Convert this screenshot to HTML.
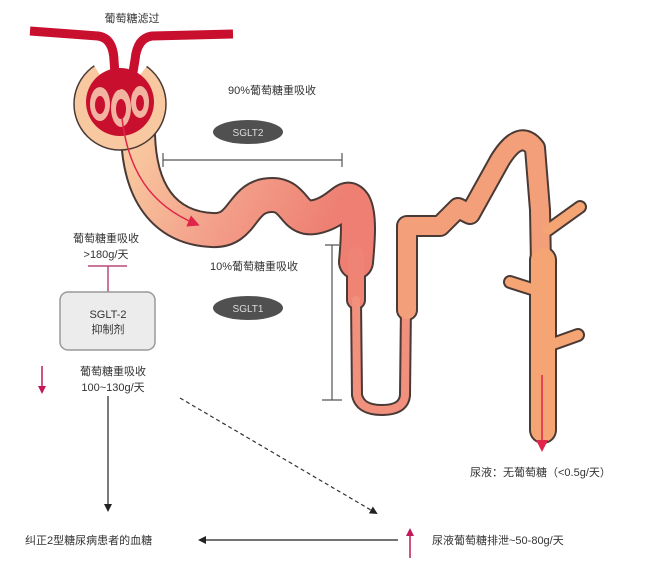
<!DOCTYPE html>
<html><head><meta charset="utf-8"><style>
html,body{margin:0;padding:0;background:#fff;}
svg{display:block;}
text{font-family:"Liberation Sans","Noto Sans CJK SC",sans-serif;fill:#333;}
</style></head><body>
<svg width="660" height="572" viewBox="0 0 660 572" xmlns="http://www.w3.org/2000/svg">
<defs>
<linearGradient id="gp" x1="0" y1="0" x2="1" y2="0.3">
<stop offset="0" stop-color="#f8c9a0"/><stop offset="0.5" stop-color="#f3a08a"/><stop offset="1" stop-color="#ee7f72"/>
</linearGradient>
<marker id="ab" markerWidth="8" markerHeight="8" refX="6" refY="4" orient="auto" markerUnits="userSpaceOnUse"><path d="M0,0 L8,4 L0,8 z" fill="#222"/></marker>
<marker id="ar" markerWidth="12" markerHeight="12" refX="8" refY="6" orient="auto" markerUnits="userSpaceOnUse"><path d="M0,0 L12,6 L0,12 z" fill="#e0244a"/></marker>
<marker id="ap" markerWidth="8" markerHeight="8" refX="6" refY="4" orient="auto" markerUnits="userSpaceOnUse"><path d="M0,0 L8,4 L0,8 z" fill="#c2185b"/></marker>
</defs>

<g fill="none" stroke-linecap="round" stroke-linejoin="round">
<g stroke="#4a3a36">
<path d="M138,135 C140,200 170,228 212,230 C245,232 240,195 272,195 C298,195 292,226 322,215 C342,208 346,192 354,204 C360,215 358,240 356,262" stroke-width="36"/>
<path d="M356,255 L356,300" stroke-width="20"/>
<path d="M356,300 L357,395 Q360,410 382,410 Q404,410 405,395 L406,305" stroke-width="12"/>
<path d="M407,310 L407,226 L440,226 L458,208 L470,214 L500,160 Q520,128 535,148 L540,210 L544,430" stroke-width="22"/>
<path d="M543,260 L543,430" stroke-width="28"/>
<path d="M548,230 L580,207 M535,290 L510,282 M550,345 L578,335" stroke-width="14"/>
</g>
<g>
<path d="M138,135 C140,200 170,228 212,230 C245,232 240,195 272,195 C298,195 292,226 322,215 C342,208 346,192 354,204 C360,215 358,240 356,262" stroke="url(#gp)" stroke-width="32"/>
<path d="M356,255 L356,300" stroke="#ef8475" stroke-width="16"/>
<path d="M356,300 L357,395 Q360,410 382,410 Q404,410 405,395 L406,305" stroke="#f1907c" stroke-width="8"/>
<path d="M407,310 L407,226 L440,226 L458,208 L470,214 L500,160 Q520,128 535,148 L540,210 L544,430" stroke="#f3a07a" stroke-width="18"/>
<path d="M543,260 L543,430" stroke="#f5a574" stroke-width="24"/>
<path d="M548,230 L580,207 M535,290 L510,282 M550,345 L578,335" stroke="#f5a574" stroke-width="10"/>
</g>
</g>

<!-- capsule -->
<circle cx="120" cy="104" r="46" fill="#f8c9a0" stroke="#4a3a36" stroke-width="1.5"/>
<path d="M92,62 Q120,52 150,62 L140,75 Q120,68 100,75 z" fill="#fff"/>
<circle cx="120" cy="102" r="34" fill="#c8102e"/>
<ellipse cx="100" cy="104" rx="10" ry="17" fill="#f2b3a0"/>
<ellipse cx="121" cy="108" rx="10" ry="19" fill="#f2b3a0"/>
<ellipse cx="140" cy="102" rx="9" ry="16" fill="#f2b3a0"/>
<ellipse cx="100" cy="105" rx="5" ry="9" fill="#c8102e"/>
<ellipse cx="121" cy="109" rx="5" ry="10" fill="#c8102e"/>
<ellipse cx="140" cy="103" rx="4" ry="8" fill="#c8102e"/>
<g fill="none" stroke="#c8102e" stroke-width="9" stroke-linecap="butt">
<path d="M30,31 L98,36 Q113,38 114,60 L116,90"/>
<path d="M233,34 L152,36 Q137,38 135,60 L130,90"/>
</g>
<path d="M122,118 C128,170 150,205 196,224" fill="none" stroke="#e0244a" stroke-width="1.5" marker-end="url(#ar)"/>

<text x="132" y="22" font-size="11" text-anchor="middle">葡萄糖滤过</text>
<text x="272" y="94" font-size="11" text-anchor="middle">90%葡萄糖重吸收</text>
<ellipse cx="248" cy="132" rx="35" ry="12" fill="#505050"/>
<text x="248" y="136" font-size="10" text-anchor="middle" style="fill:#ddd">SGLT2</text>
<path d="M163,160 L342,160 M163,153 L163,167 M342,153 L342,167" stroke="#555" stroke-width="1.2"/>

<text x="254" y="270" font-size="11" text-anchor="middle">10%葡萄糖重吸收</text>
<ellipse cx="248" cy="308" rx="35" ry="12" fill="#505050"/>
<text x="248" y="312" font-size="10" text-anchor="middle" style="fill:#ddd">SGLT1</text>
<path d="M332,245 L332,400 M325,245 L339,245 M322,400 L342,400" stroke="#555" stroke-width="1.2"/>

<text x="106" y="242" font-size="11" text-anchor="middle">葡萄糖重吸收</text>
<text x="106" y="258" font-size="11" text-anchor="middle">&gt;180g/天</text>
<path d="M88,266 L127,266 M108,266 L108,292" stroke="#b84a7a" stroke-width="1.5"/>
<rect x="60" y="292" width="95" height="58" rx="8" fill="#ececec" stroke="#999" stroke-width="1.5"/>
<text x="108" y="318" font-size="11" text-anchor="middle">SGLT-2</text>
<text x="108" y="333" font-size="11" text-anchor="middle">抑制剂</text>

<path d="M42,366 L42,392" stroke="#c2185b" stroke-width="1.5" marker-end="url(#ap)"/>
<text x="113" y="375" font-size="11" text-anchor="middle">葡萄糖重吸收</text>
<text x="113" y="391" font-size="11" text-anchor="middle">100~130g/天</text>
<path d="M108,396 L108,510" stroke="#222" stroke-width="1.2" marker-end="url(#ab)"/>
<path d="M180,398 L376,513" stroke="#333" stroke-width="1.2" stroke-dasharray="4,3" marker-end="url(#ab)"/>

<path d="M542,375 L542,448" stroke="#e0244a" stroke-width="1.5" marker-end="url(#ar)"/>
<text x="470" y="476" font-size="11">尿液：无葡萄糖（&lt;0.5g/天）</text>

<text x="25" y="544" font-size="11">纠正2型糖尿病患者的血糖</text>
<path d="M398,540 L200,540" stroke="#222" stroke-width="1.2" marker-end="url(#ab)"/>
<path d="M410,558 L410,530" stroke="#c2185b" stroke-width="1.5" marker-end="url(#ap)"/>
<text x="432" y="544" font-size="11">尿液葡萄糖排泄~50-80g/天</text>
</svg>
</body></html>
